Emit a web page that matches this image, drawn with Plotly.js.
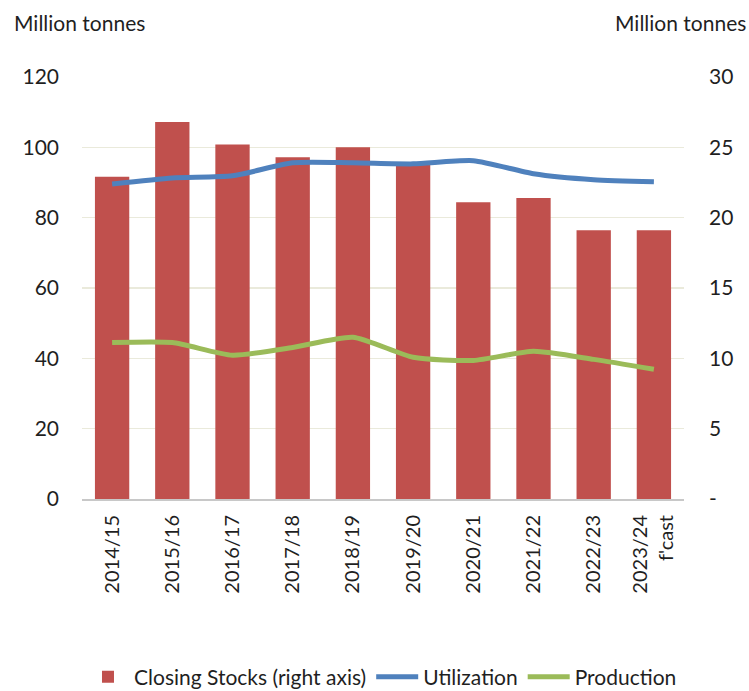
<!DOCTYPE html>
<html>
<head>
<meta charset="utf-8">
<script src="https://cdn.plot.ly/plotly-3.0.1.min.js"></script>
<style>html,body{margin:0;padding:0;background:#fff}#chart{width:749px;height:691px}</style>
</head>
<body>
<div id="chart"></div>
<script>
const categories = ["2014/15","2015/16","2016/17","2017/18","2018/19","2019/20","2020/21","2021/22","2022/23","2023/24<br>f'cast"];
const closingStocks = [22.9, 26.8, 25.2, 24.3, 25.0, 23.8, 21.1, 21.4, 19.1, 19.1];
const utilization = [89.6, 91.3, 91.9, 95.6, 95.6, 95.3, 96.2, 92.5, 90.8, 90.2];
const production = [44.5, 44.5, 40.9, 43.1, 46.0, 40.3, 39.4, 42.0, 39.7, 36.9];
const rightTickVals = [0,5,10,15,20,25,30];
const rightTickText = ["-","5","10","15","20","25","30"];
const leftTickVals = [0,20,40,60,80,100,120];

const font = "Lato, 'Open Sans', sans-serif";
const txt = '#1f1f1f';
const traces = [
  {type:'bar', x:categories, y:closingStocks, name:'Closing Stocks (right axis)', yaxis:'y',
   marker:{color:'#C0504D'}},
  {type:'scatter', mode:'lines', x:categories, y:utilization, name:'Utilization', yaxis:'y2',
   line:{color:'#4F81BD', width:5, shape:'spline', smoothing:0.6}},
  {type:'scatter', mode:'lines', x:categories, y:production, name:'Production', yaxis:'y2',
   line:{color:'#9BBB59', width:5, shape:'spline', smoothing:0.6}}
];
const layout = {
  width:749, height:691,
  margin:{l:82, r:65, t:77, b:192},
  paper_bgcolor:'#fff', plot_bgcolor:'#fff',
  font:{family:font, size:21, color:txt},
  bargap:0.43,
  showlegend:true,
  legend:{orientation:'h', xref:'container', yref:'container', x:0.51, xanchor:'center', y:0.02, yanchor:'middle',
          font:{size:21, color:txt}, traceorder:'normal', itemwidth:42},
  xaxis:{tickangle:-90, showline:true, linecolor:'#C8C8C8', linewidth:2,
         ticks:'', tickfont:{size:20, color:txt}, automargin:false, ticklabelstandoff:6},
  yaxis:{side:'right', range:[0,30], tickvals:rightTickVals, ticktext:rightTickText,
         showgrid:true, gridcolor:'#EAEADB', gridwidth:1.5, zeroline:false, ticks:'',
         tickfont:{size:21, color:txt}, ticklabelstandoff:24, automargin:false},
  yaxis2:{side:'left', overlaying:'y', range:[0,120], tickvals:leftTickVals,
          showgrid:false, zeroline:false, ticks:'', tickfont:{size:21, color:txt},
          ticklabelstandoff:22, automargin:false},
  annotations:[
    {text:'Million tonnes', xref:'paper', yref:'paper', x:-0.1165, y:1.13, xanchor:'left', yanchor:'middle',
     showarrow:false, font:{size:21, color:txt}},
    {text:'Million tonnes', xref:'paper', yref:'paper', x:1.1065, y:1.13, xanchor:'right', yanchor:'middle',
     showarrow:false, font:{size:21, color:txt}}
  ]
};
Plotly.newPlot('chart', traces, layout, {displayModeBar:false, staticPlot:true});
</script>
</body>
</html>
